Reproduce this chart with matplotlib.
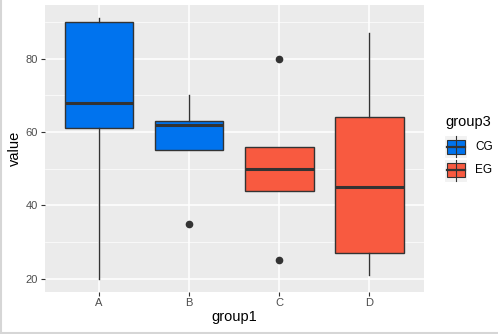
import matplotlib
matplotlib.use("Agg")
import matplotlib.pyplot as plt
from matplotlib.patches import Rectangle
from matplotlib.lines import Line2D

plt.rcParams['font.family'] = ['Liberation Sans', 'DejaVu Sans']

# box statistics
groups = ["A", "B", "C", "D"]
group3 = ["CG", "CG", "EG", "EG"]
q1 = [61, 55, 44, 27]
med = [68, 62, 50, 45]
q3 = [90, 63, 56, 64]
whislo = [20, 55, 44, 21]
whishi = [91, 70, 56, 87]
fliers = [[], [35], [80, 25], []]

colors = {"CG": "#0073EE", "EG": "#F85A40"}
edge = "#333333"

W, H = 498, 334
fig = plt.figure(figsize=(W / 100, H / 100), dpi=100)
ax = fig.add_axes([45 / W, 1 - 291.5 / H, (423.5 - 45) / W, (291.5 - 5) / H])
ax.set_facecolor("#EBEBEB")

stats = []
for i, g in enumerate(groups):
    stats.append(dict(med=med[i], q1=q1[i], q3=q3[i], whislo=whislo[i],
                      whishi=whishi[i], fliers=fliers[i], label=g))

bp = ax.bxp(stats, positions=range(1, 5), widths=0.76, patch_artist=True,
            showcaps=False, zorder=3,
            boxprops=dict(edgecolor=edge, linewidth=1.0),
            medianprops=dict(color=edge, linewidth=2.2, solid_capstyle="butt"),
            whiskerprops=dict(color=edge, linewidth=1.0),
            flierprops=dict(marker="o", markerfacecolor=edge, markeredgecolor=edge,
                            markersize=4.5))
for patch, g3 in zip(bp["boxes"], group3):
    patch.set_facecolor(colors[g3])

ax.set_xlim(0.4, 4.6)
ax.set_ylim(16.5, 94.6)
ax.set_yticks([20, 40, 60, 80])
ax.set_yticks([30, 50, 70, 90], minor=True)
ax.set_xticks(range(1, 5))
ax.set_xticklabels(groups)
ax.grid(True, which="major", color="white", linewidth=1.1, zorder=0)
ax.grid(True, which="minor", axis="y", color="white", linewidth=0.5, zorder=0)
ax.set_axisbelow(True)
for s in ax.spines.values():
    s.set_visible(False)
ax.tick_params(which="major", length=3, width=0.8, color="#333333",
               labelcolor="#4D4D4D", labelsize=8, pad=2)
ax.tick_params(which="minor", length=0)
ax.set_xlabel("group1", fontsize=10.5, labelpad=1)
ax.set_ylabel("value", fontsize=10.5, labelpad=3)

# legend drawn by hand, ggplot style
fig.text(445 / W, 1 - 122 / H, "group3", fontsize=10.5, va="center", ha="left")
for k, (name, yc) in enumerate([("CG", 146.5), ("EG", 170)]):
    kx0, kw, kh = 444, 23, 23
    fig.patches.append(Rectangle((kx0 / W, 1 - (yc + kh / 2) / H), kw / W, kh / H,
                                 transform=fig.transFigure, facecolor="#F2F2F2",
                                 edgecolor="white", linewidth=0.8))
    bx0, bx1 = 446.5, 465
    by0, by1 = yc - 7, yc + 7
    xm = (bx0 + bx1) / 2
    fig.lines.append(Line2D([xm / W, xm / W], [1 - (yc - 10.5) / H, 1 - (yc + 10.5) / H],
                            transform=fig.transFigure, color=edge, linewidth=0.8))
    fig.patches.append(Rectangle((bx0 / W, 1 - by1 / H), (bx1 - bx0) / W, (by1 - by0) / H,
                                 transform=fig.transFigure, facecolor=colors[name],
                                 edgecolor=edge, linewidth=0.8))
    fig.lines.append(Line2D([bx0 / W, bx1 / W], [1 - yc / H, 1 - yc / H],
                            transform=fig.transFigure, color=edge, linewidth=1.6))
    fig.text(475 / W, 1 - yc / H, name, fontsize=8.5, va="center", ha="left")

# faint screenshot border
fig.lines.append(Line2D([1 / W, 1 / W], [0, 1], transform=fig.transFigure,
                        color="#D6D6D6", linewidth=1.5))
fig.lines.append(Line2D([0, 1], [1.5 / H, 1.5 / H], transform=fig.transFigure,
                        color="#D6D6D6", linewidth=1.5))

fig.savefig("out.png", dpi=100)
